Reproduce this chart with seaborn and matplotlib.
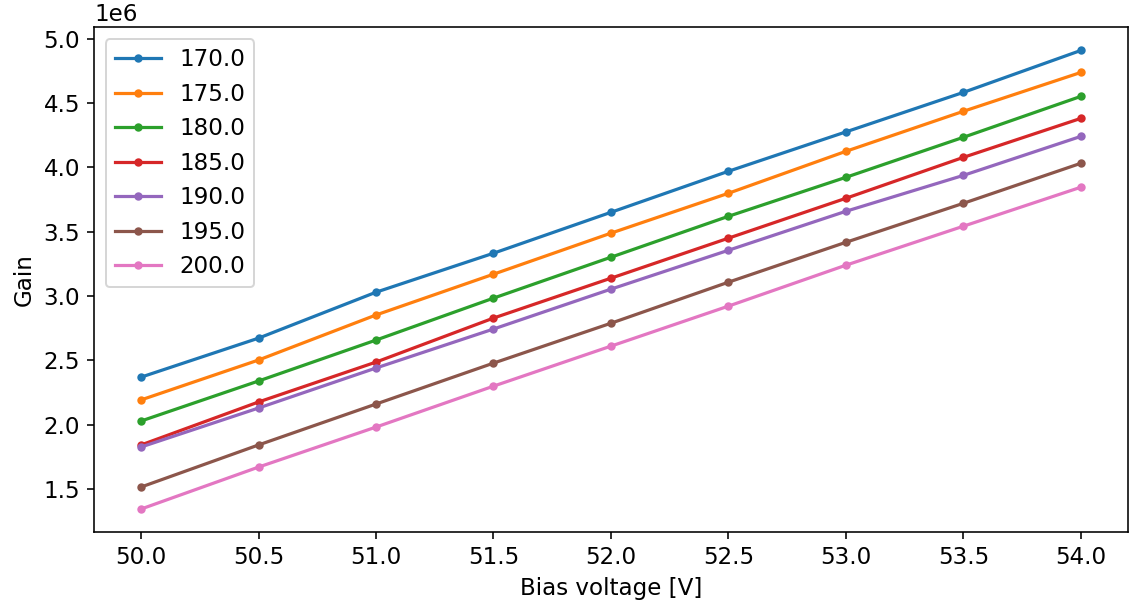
import matplotlib
matplotlib.use("Agg")
import matplotlib.pyplot as plt
import seaborn as sns
import pandas as pd

bias_voltage = [50.0, 50.5, 51.0, 51.5, 52.0, 52.5, 53.0, 53.5, 54.0]
temperatures = ["170.0", "175.0", "180.0", "185.0", "190.0", "195.0", "200.0"]

gain_170 = [2.37e6, 2.673e6, 3.03e6, 3.333e6, 3.651e6, 3.97e6, 4.276e6, 4.583e6, 4.909e6]
gain_175 = [2.193e6, 2.503e6, 2.853e6, 3.17e6, 3.489e6, 3.799e6, 4.125e6, 4.436e6, 4.738e6]
gain_180 = [2.029e6, 2.34e6, 2.658e6, 2.984e6, 3.302e6, 3.62e6, 3.923e6, 4.234e6, 4.552e6]
gain_185 = [1.843e6, 2.177e6, 2.487e6, 2.829e6, 3.139e6, 3.45e6, 3.76e6, 4.078e6, 4.381e6]
gain_190 = [1.827e6, 2.13e6, 2.441e6, 2.744e6, 3.054e6, 3.356e6, 3.659e6, 3.938e6, 4.241e6]
gain_195 = [1.516e6, 1.843e6, 2.161e6, 2.479e6, 2.789e6, 3.108e6, 3.418e6, 3.721e6, 4.032e6]
gain_200 = [1.345e6, 1.671e6, 1.982e6, 2.3e6, 2.611e6, 2.922e6, 3.24e6, 3.543e6, 3.846e6]

gains = [gain_170, gain_175, gain_180, gain_185, gain_190, gain_195, gain_200]

rows = []
for t, g in zip(temperatures, gains):
    for v, val in zip(bias_voltage, g):
        rows.append({"Bias voltage [V]": v, "Gain": val, "T": t})
df = pd.DataFrame(rows)

plt.rcParams["font.size"] = 11.5

dpi = 144
fig, ax = plt.subplots(figsize=(1129 / dpi, 607 / dpi), dpi=dpi)
fig.subplots_adjust(left=0.0833, right=0.999, top=0.9547, bottom=0.1236)

sns.lineplot(data=df, x="Bias voltage [V]", y="Gain", hue="T",
             hue_order=temperatures, palette=sns.color_palette("tab10", 7),
             marker="o", markersize=4.2, markeredgewidth=0, linewidth=1.6, ax=ax)

ax.legend(loc="upper left", title=None)
ax.set_xticks(bias_voltage)
ax.set_yticks([1.5e6, 2.0e6, 2.5e6, 3.0e6, 3.5e6, 4.0e6, 4.5e6, 5.0e6])

fig.savefig("out.png", dpi=dpi)
